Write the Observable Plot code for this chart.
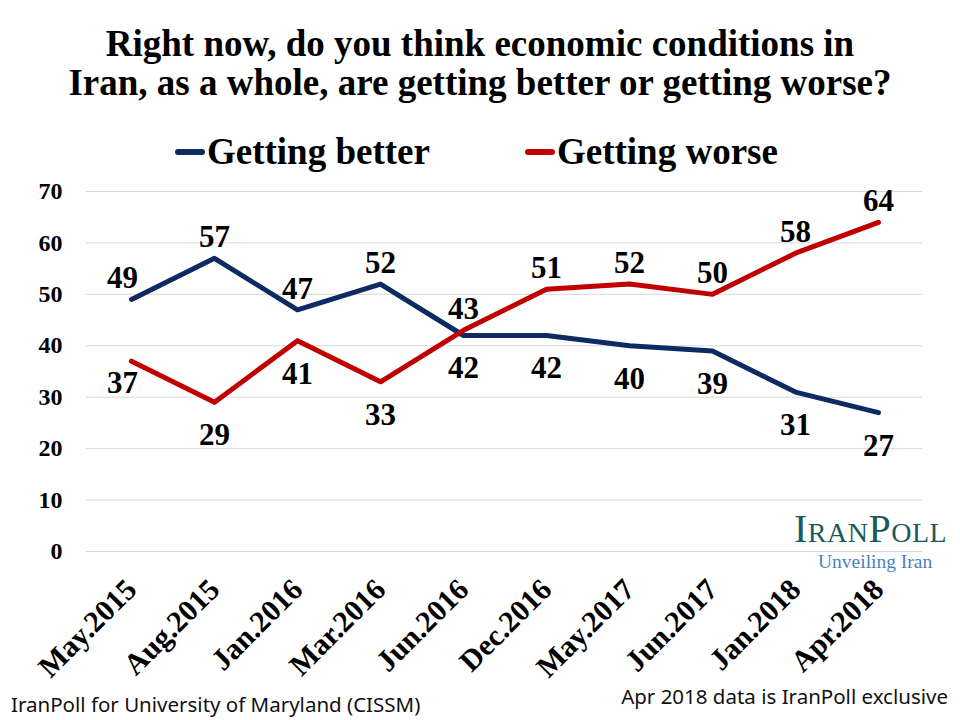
<!DOCTYPE html>
<html><head><meta charset="utf-8">
<script src="https://cdn.jsdelivr.net/npm/d3@7"></script>
<script src="https://cdn.jsdelivr.net/npm/@observablehq/plot@0.6"></script>
<style>
body{margin:0;background:#fff;width:960px;height:720px;position:relative;overflow:hidden;font-family:"Liberation Serif",serif;}
.abs{position:absolute;white-space:nowrap;}
#title{left:0;width:960px;top:24px;text-align:center;font-weight:bold;font-size:37px;line-height:39px;color:#000;}
.leg{top:130px;font-weight:bold;font-size:37px;color:#000;display:flex;align-items:center;}
.sw{display:inline-block;width:30px;height:6px;border-radius:3px;margin-right:2px;}
#chart{position:absolute;left:0;top:170px;}
#foot1{left:11px;top:690px;font-family:"Noto Sans",sans-serif;font-size:20.5px;color:#111;}
#foot2{right:12px;top:682px;font-family:"Noto Sans",sans-serif;font-size:20.5px;color:#111;}
#logo1{left:794px;top:505px;font-size:40px;font-variant:small-caps;color:#1b5a5c;letter-spacing:0.5px;}
#logo2{left:818px;top:551px;font-size:19.5px;color:#4a7fbf;}
</style></head>
<body>
<div id="title" class="abs">Right now, do you think economic conditions in<br>Iran, as a whole, are getting better or getting worse?</div>
<div class="abs leg" style="left:175px"><span class="sw" style="background:#0d2a63"></span>Getting better</div>
<div class="abs leg" style="left:525px"><span class="sw" style="background:#c00000"></span>Getting worse</div>
<div id="chart"></div>
<div id="logo1" class="abs">IranPoll</div>
<div id="logo2" class="abs">Unveiling Iran</div>
<div id="foot1" class="abs">IranPoll for University of Maryland (CISSM)</div>
<div id="foot2" class="abs">Apr 2018 data is IranPoll exclusive</div>
<script>
const dates = ["May.2015","Aug.2015","Jan.2016","Mar.2016","Jun.2016","Dec.2016","May.2017","Jun.2017","Jan.2018","Apr.2018"];
const better = [49,57,47,52,42,42,40,39,31,27];
const worse = [37,29,41,33,43,51,52,50,58,64];
const betterAbove = [true,true,true,true,false,false,false,false,false,false];
const worseAbove = [false,false,false,false,true,true,true,true,true,true];
const yTicks = [0,10,20,30,40,50,60,70];
const seriesNames = ["Getting better","Getting worse"];
const colors = ["#0d2a63","#c00000"];

const rows = [];
dates.forEach((d,i)=>{
  rows.push({date:d, series:seriesNames[0], value:better[i], above:betterAbove[i], first:i===0});
  rows.push({date:d, series:seriesNames[1], value:worse[i], above:worseAbove[i], first:i===0});
});

const plot = Plot.plot({
  width:960, height:520,
  marginLeft:86, marginRight:38, marginTop:21, marginBottom:139,
  style:{fontFamily:"Liberation Serif, serif", fontWeight:"bold", color:"#000", background:"transparent"},
  x:{type:"point", domain:dates, padding:0.5, label:null},
  y:{domain:[0,70], label:null},
  color:{domain:seriesNames, range:colors},
  marks:[
    Plot.ruleY(yTicks,{stroke:"#d9d9d9", strokeWidth:1}),
    Plot.axisY({ticks:yTicks, tickSize:0, tickPadding:24, fontSize:24, label:null}),
    Plot.axisX({tickSize:0, tickRotate:-45, tickPadding:33, fontSize:30, label:null}),
    Plot.line(rows,{x:"date", y:"value", z:"series", stroke:"series", strokeWidth:5, strokeLinejoin:"round"}),
    Plot.text(rows.filter(r=>r.above && !r.first),{x:"date", y:"value", text:"value", dy:-21, fontSize:31, fill:"#000"}),
    Plot.text(rows.filter(r=>r.above && r.first),{x:"date", y:"value", text:"value", dy:-21, dx:-9, fontSize:31, fill:"#000"}),
    Plot.text(rows.filter(r=>!r.above && !r.first),{x:"date", y:"value", text:"value", dy:33, fontSize:31, fill:"#000"}),
    Plot.text(rows.filter(r=>!r.above && r.first),{x:"date", y:"value", text:"value", dy:22, dx:-9, fontSize:31, fill:"#000"})
  ]
});
document.getElementById("chart").appendChild(plot);
</script>
</body></html>
